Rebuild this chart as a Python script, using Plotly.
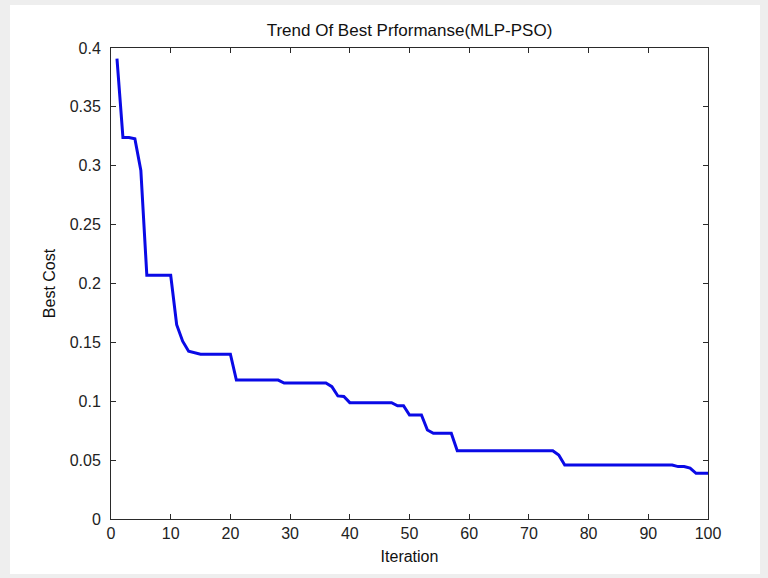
import plotly.graph_objects as go

iterations = list(range(1, 101))
best_cost = (
    [0.391, 0.324, 0.324, 0.323, 0.296]
    + [0.207] * 5
    + [0.165, 0.151, 0.1425, 0.141]
    + [0.140] * 6
    + [0.118] * 8
    + [0.1155] * 8
    + [0.1124, 0.1045, 0.104]
    + [0.0988] * 8
    + [0.0962, 0.0962]
    + [0.0883] * 3
    + [0.0756]
    + [0.0728] * 4
    + [0.058] * 17
    + [0.0543]
    + [0.0459] * 19
    + [0.0445, 0.0445, 0.0432]
    + [0.0388] * 3
)

x_ticks = list(range(0, 101, 10))
y_ticks = [0, 0.05, 0.1, 0.15, 0.2, 0.25, 0.3, 0.35, 0.4]
y_tick_labels = ["0", "0.05", "0.1", "0.15", "0.2", "0.25", "0.3", "0.35", "0.4"]

W, H = 768, 578
L, R, T, B = 111, 60, 48, 59
pw, ph = W - L - R, H - T - B

def px_x(p):
    return (p - L) / pw

def px_y(p):
    return (H - B - p) / ph

FONT = "Liberation Sans, Arial, sans-serif"

fig = go.Figure()
fig.add_trace(go.Scatter(
    x=iterations, y=best_cost, mode="lines",
    line=dict(color="#0a0ae6", width=3),
    showlegend=False,
))

axis_common = dict(
    showline=True, linecolor="#2a2a2a", linewidth=1, mirror="ticks",
    ticks="inside", ticklen=5, tickcolor="#2a2a2a",
    showgrid=False, zeroline=False,
    tickfont=dict(family=FONT, size=16, color="#222"),
)

fig.update_layout(
    width=W, height=H,
    margin=dict(l=L, r=R, t=T, b=B),
    paper_bgcolor="#eeeeee",
    plot_bgcolor="white",
    title=dict(
        text="Trend Of Best Prformanse(MLP-PSO)",
        x=(L + pw / 2) / W, xanchor="center",
        y=1 - 30 / H, yanchor="middle",
        font=dict(family=FONT, size=17, color="#111"),
    ),
    xaxis=dict(
        range=[0, 100], tickmode="array", tickvals=x_ticks,
        title=dict(text="Iteration", standoff=9,
                   font=dict(family=FONT, size=16, color="#111")),
        **axis_common,
    ),
    yaxis=dict(
        range=[0, 0.4], tickmode="array", tickvals=y_ticks, ticktext=y_tick_labels,
        ticklabelstandoff=6,
        title=dict(text="Best Cost", standoff=10,
                   font=dict(family=FONT, size=16, color="#111")),
        **axis_common,
    ),
    shapes=[dict(
        type="rect", xref="paper", yref="paper", layer="below",
        x0=px_x(10), x1=px_x(760), y0=px_y(574), y1=px_y(5),
        fillcolor="white", line=dict(width=0),
    )],
)

fig.write_html(
    "out.html",
    config={"displayModeBar": False},
    post_script="document.body.style.margin='0';",
)
